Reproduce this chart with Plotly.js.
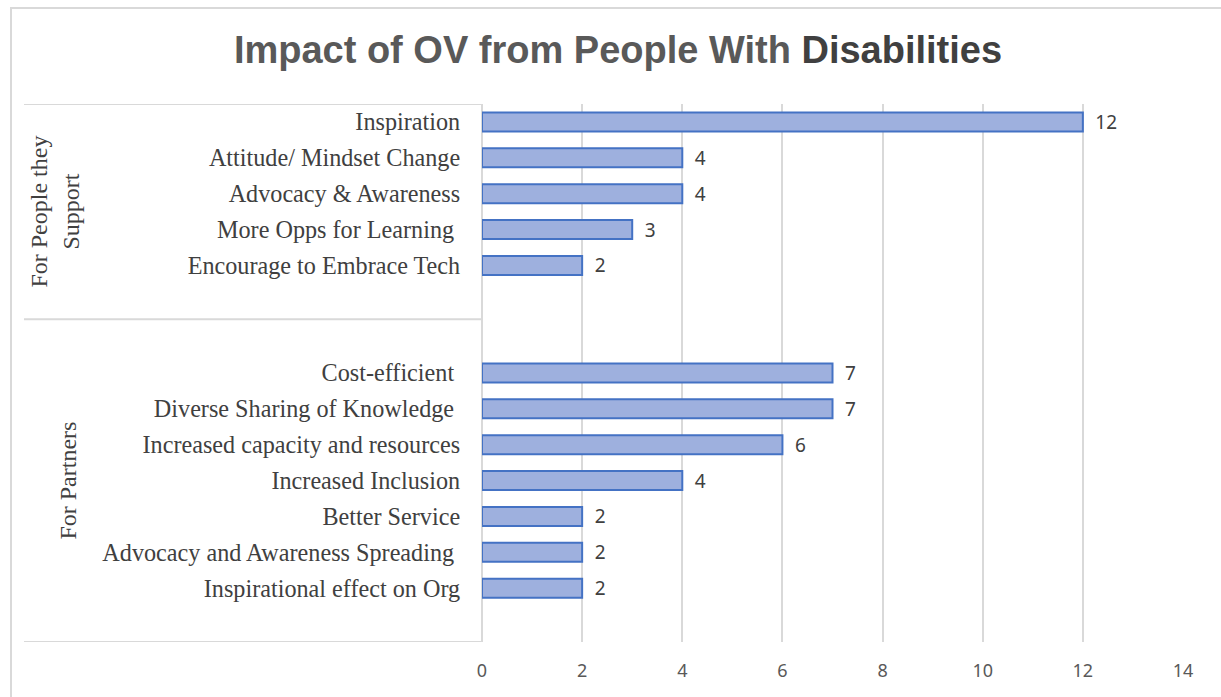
<!DOCTYPE html>
<html>
<head>
<meta charset="utf-8">
<script src="https://cdn.plot.ly/plotly-3.0.1.min.js"></script>
<style>
  html, body { margin: 0; padding: 0; background: #ffffff; }
  #chart { width: 1221px; height: 697px; }
</style>
</head>
<body>
<div id="chart"></div>
<script>
// ---- Data ----
const titleMain = "Impact of OV from People With ";
const titleEnd = "Disabilities";
const groupLabels = ["For People they<br>Support", "For Partners"];
const categoriesSupport = ["Inspiration", "Attitude/ Mindset Change", "Advocacy & Awareness", "More Opps for Learning ", "Encourage to Embrace Tech"];
const valuesSupport = [12, 4, 4, 3, 2];
const categoriesPartners = ["Cost-efficient ", "Diverse Sharing of Knowledge ", "Increased capacity and resources", "Increased Inclusion", "Better Service", "Advocacy and Awareness Spreading ", "Inspirational effect on Org"];
const valuesPartners = [7, 7, 6, 4, 2, 2, 2];
const xTicks = [0, 2, 4, 6, 8, 10, 12, 14];

// ---- Layout of slots (empty rows like the original) ----
const gapAfterGroup1 = 1, gapBeforeGroup2 = 1, gapAfterGroup2 = 1;
const g1Start = 0;
const g2Start = categoriesSupport.length + gapAfterGroup1 + gapBeforeGroup2;
const totalSlots = g2Start + categoriesPartners.length + gapAfterGroup2;
const sep = categoriesSupport.length + gapAfterGroup1 - 0.5;

const yPos = [], xVals = [], labels = [];
categoriesSupport.forEach((c, i) => { yPos.push(g1Start + i); xVals.push(valuesSupport[i]); labels.push(c); });
categoriesPartners.forEach((c, i) => { yPos.push(g2Start + i); xVals.push(valuesPartners[i]); labels.push(c); });
const tickText = labels.map(s => s.replace(/ $/, "\u00a0"));

// pixel helpers for decorations
const L = 482, R = 1183, T = 104, B = 642;
const px = x => (x - L) / (R - L);
const py = y => (B - y) / (B - T);

const lineStyle = { color: "#d9d9d9", width: 2 };
const serif = "Liberation Serif, Times New Roman, serif";

const trace = {
  type: "bar",
  orientation: "h",
  x: xVals,
  y: yPos,
  width: 0.53,
  marker: { color: "#9eb0de", line: { color: "#4472c4", width: 2 } },
  texttemplate: "\u2002%{x}",
  textposition: "outside",
  constraintext: "none",
  cliponaxis: false,
  textfont: { family: "Noto Sans, Open Sans, sans-serif", size: 19, color: "#404040" },
  hoverinfo: "skip"
};

const layout = {
  width: 1221, height: 697,
  margin: { l: L, r: 1221 - R, t: T, b: 697 - B, pad: 0 },
  paper_bgcolor: "#ffffff",
  plot_bgcolor: "#ffffff",
  showlegend: false,
  title: {
    text: titleMain + '<span style="color:#404040">' + titleEnd + '</span>',
    font: { family: "Liberation Sans, Arial, sans-serif", size: 38, color: "#595959", weight: "bold" },
    xref: "container", x: 618 / 1221, xanchor: "center",
    yref: "container", y: 1 - 50 / 697, yanchor: "middle"
  },
  xaxis: {
    range: [0, 14],
    tickvals: xTicks,
    ticktext: xTicks.map(String),
    showgrid: true, gridcolor: "#d9d9d9", gridwidth: 2,
    zeroline: true, zerolinecolor: "#d9d9d9", zerolinewidth: 2,
    showline: false,
    ticks: "outside", ticklen: 12, tickcolor: "rgba(0,0,0,0)",
    tickfont: { family: "Noto Sans, Open Sans, sans-serif", size: 18, color: "#595959" },
    fixedrange: true
  },
  yaxis: {
    range: [totalSlots - 0.5, -0.5],
    tickvals: yPos,
    ticktext: tickText,
    showgrid: false, zeroline: false, showline: false,
    ticks: "outside", ticklen: 16, tickcolor: "rgba(0,0,0,0)",
    tickfont: { family: serif, size: 24.2, color: "#404040" },
    fixedrange: true
  },
  bargap: 0.47,
  shapes: [
    { type: "rect", xref: "paper", yref: "paper", x0: px(11), x1: px(1260), y0: py(8), y1: py(740), line: { color: "#d9d9d9", width: 2 }, fillcolor: "rgba(0,0,0,0)", layer: "below" },
    { type: "line", xref: "paper", yref: "y", x0: px(24), x1: 0, y0: -0.5, y1: -0.5, line: lineStyle },
    { type: "line", xref: "paper", yref: "y", x0: px(24), x1: 0, y0: sep, y1: sep, line: lineStyle },
    { type: "line", xref: "paper", yref: "y", x0: px(24), x1: 0, y0: totalSlots - 0.5, y1: totalSlots - 0.5, line: lineStyle }
  ],
  annotations: [
    { xref: "paper", yref: "y", x: px(55), y: (-0.5 + sep) / 2, text: groupLabels[0], textangle: -90, showarrow: false, xanchor: "center", yanchor: "middle",
      font: { family: serif, size: 24, color: "#404040" } },
    { xref: "paper", yref: "y", x: px(68), y: (sep + totalSlots - 0.5) / 2, text: groupLabels[1], textangle: -90, showarrow: false, xanchor: "center", yanchor: "middle",
      font: { family: serif, size: 24, color: "#404040" } }
  ]
};

Plotly.newPlot("chart", [trace], layout, { displayModeBar: false, staticPlot: true });
</script>
</body>
</html>
